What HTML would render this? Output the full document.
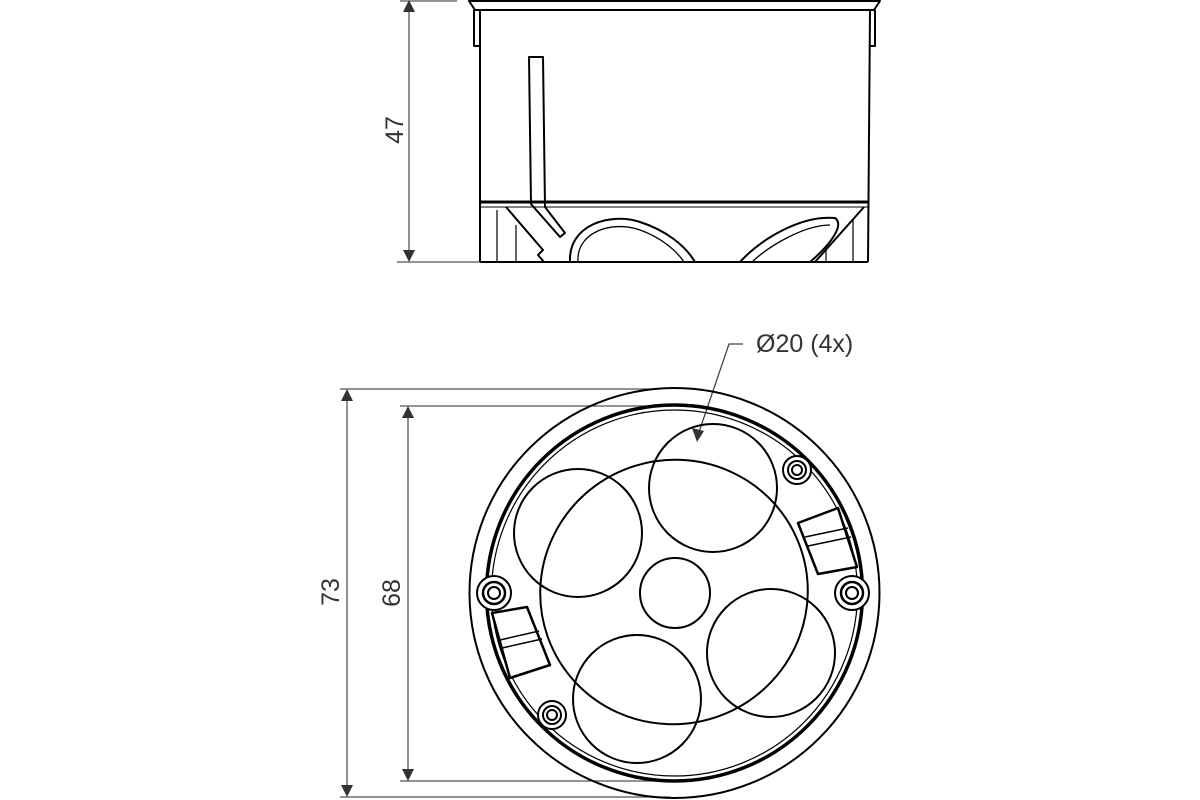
<!DOCTYPE html>
<html><head><style>body{margin:0;background:#fff}svg{display:block}</style></head><body>
<svg width="1200" height="800" viewBox="0 0 1200 800" xmlns="http://www.w3.org/2000/svg" font-family="Liberation Sans, sans-serif">
<g stroke="#555" stroke-width="1.3" fill="none">
<line x1="400" y1="1" x2="457" y2="1"/>
<line x1="397" y1="262" x2="525" y2="262"/>
<line x1="409" y1="12" x2="409" y2="250"/>
<line x1="340" y1="389" x2="655" y2="389"/>
<line x1="340" y1="797" x2="670" y2="797"/>
<line x1="400" y1="406" x2="650" y2="406"/>
<line x1="400" y1="781" x2="680" y2="781"/>
<line x1="347" y1="400" x2="347" y2="786"/>
<line x1="408" y1="417" x2="408" y2="770"/>
<polyline points="743,344 729,344 699,432" stroke="#444"/>
</g>
<g fill="#333">
<path d="M409,0 L403,12 L415,12Z"/><path d="M409,262 L403,250 L415,250Z"/>
<path d="M347,389 L341,401 L353,401Z"/><path d="M347,797 L341,785 L353,785Z"/>
<path d="M408,406 L402,418 L414,418Z"/><path d="M408,781 L402,769 L414,769Z"/>
<path d="M697,442 L692,428 L704,431Z"/>
</g>
<g font-size="25" fill="#333">
<text transform="translate(403,130) rotate(-90)" text-anchor="middle">47</text>
<text transform="translate(339,592) rotate(-90)" text-anchor="middle">73</text>
<text transform="translate(400,593) rotate(-90)" text-anchor="middle">68</text>
<text x="756" y="352">Ø20 (4x)</text>
</g>
<!-- side view -->
<g stroke="#000" stroke-width="2" fill="none" stroke-linejoin="round">
<path d="M469,1 L880,1 L874,10 L475,10 Z"/>
<path d="M474,10 L474,46 L480,46"/><path d="M875,10 L875,46 L869,46"/>
<line x1="480" y1="10" x2="480" y2="262"/>
<line x1="870" y1="10" x2="868" y2="262"/>
<line x1="480" y1="262" x2="868" y2="262"/>
<line x1="480" y1="202" x2="868" y2="202" stroke-width="3"/>
<line x1="480" y1="207" x2="868" y2="207" stroke-width="1"/>
<path d="M529,57 L543,57 L545,207 L565,233 L560,237 L531,204 Z"/>
<path d="M506,207 L543,250 L538,255 L544,262"/>
<line x1="497" y1="210" x2="497" y2="262" stroke-width="1.2"/>
<line x1="516" y1="225" x2="516" y2="262" stroke-width="1.2"/>
<path d="M570,262 C568,225 610,212 640,222 C665,230 685,245 695,262"/>
<path d="M578,262 C576,232 612,220 640,230 C660,237 676,250 684,262" stroke-width="1.3"/>
<path d="M740,262 C760,240 800,215 835,218 C845,225 830,245 810,262"/>
<path d="M752,262 C770,245 805,225 830,225" stroke-width="1.3"/>
<line x1="864" y1="207" x2="815" y2="262"/>
<line x1="853" y1="220" x2="853" y2="262" stroke-width="1.2"/>
<line x1="826" y1="245" x2="826" y2="262" stroke-width="1.2"/>
</g>
<!-- top view -->
<g stroke="#000" stroke-width="2" fill="none">
<circle cx="674.5" cy="593" r="205"/>
<circle cx="674.5" cy="593" r="188" stroke-width="3.5"/>
<circle cx="674.5" cy="593" r="183" stroke-width="1.2"/>
<ellipse cx="674" cy="592" rx="134" ry="132" transform="rotate(-20 674 592)"/>
<circle cx="675" cy="593" r="35"/>
<circle cx="713" cy="488" r="64"/>
<circle cx="578" cy="533" r="64"/>
<circle cx="637" cy="699" r="64"/>
<circle cx="771" cy="653" r="64"/>
</g>
<g stroke="#000" fill="#fff">
<circle cx="797" cy="470" r="14" stroke-width="2"/><circle cx="797" cy="470" r="9" stroke-width="2"/><circle cx="797" cy="470" r="5" stroke-width="2"/>
<circle cx="494" cy="593" r="17" stroke-width="2"/><circle cx="494" cy="593" r="11" stroke-width="2.5"/><circle cx="494" cy="593" r="6" stroke-width="2"/>
<circle cx="852" cy="593" r="17" stroke-width="2"/><circle cx="852" cy="593" r="11" stroke-width="2.5"/><circle cx="852" cy="593" r="6" stroke-width="2"/>
<circle cx="552" cy="715" r="14" stroke-width="2"/><circle cx="552" cy="715" r="9" stroke-width="2"/><circle cx="552" cy="715" r="5" stroke-width="2"/>
</g>
<g stroke="#000" stroke-width="2.5" fill="#fff" stroke-linejoin="round">
<path d="M798,523 L838,508 L857,567 L818,574 Z"/>
<line x1="805" y1="537" x2="848" y2="528" stroke-width="1.5"/>
<line x1="808" y1="546" x2="851" y2="537" stroke-width="1.5"/>
<path d="M492,613 L527,607 L550,665 L510,678 Z"/>
<line x1="500" y1="640" x2="539" y2="631" stroke-width="1.5"/>
<line x1="502" y1="648" x2="542" y2="639" stroke-width="1.5"/>
</g>
</svg>
</body></html>
